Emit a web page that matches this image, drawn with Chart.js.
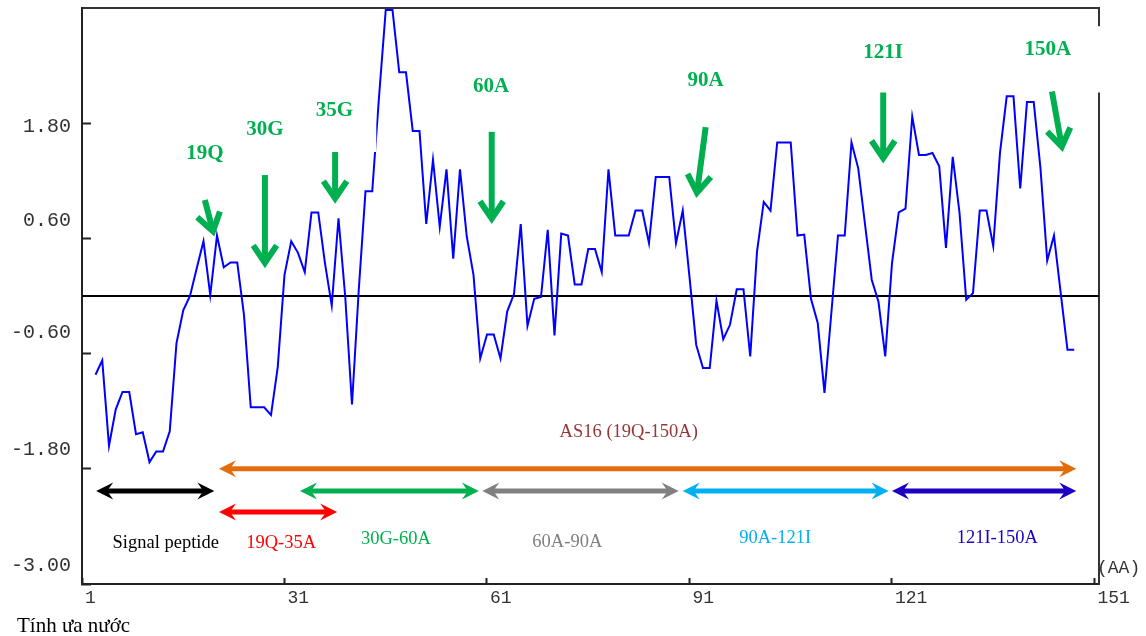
<!DOCTYPE html>
<html>
<head>
<meta charset="utf-8">
<script src="https://cdn.jsdelivr.net/npm/chart.js@4.4.0/dist/chart.umd.min.js"></script>
<style>
  html, body { margin: 0; padding: 0; background: #fff; }
</style>
</head>
<body>
<canvas id="hydroChart" width="1146" height="636"></canvas>
<script>
// residue (window centre) and hydropathy value
const residues = [3, 4, 5, 6, 7, 8, 9, 10, 11, 12, 13, 14, 15, 16, 17, 18, 19, 20, 21, 22,
  23, 24, 25, 26, 27, 28, 29, 30, 31, 32, 33, 34, 35, 36, 37, 38, 39, 40, 41, 42,
  43, 44, 45, 46, 47, 48, 49, 50, 51, 52, 53, 54, 55, 56, 57, 58, 59, 60, 61, 62,
  63, 64, 65, 66, 67, 68, 69, 70, 71, 72, 73, 74, 75, 76, 77, 78, 79, 80, 81, 82,
  83, 84, 85, 86, 87, 88, 89, 90, 91, 92, 93, 94, 95, 96, 97, 98, 99, 100, 101, 102,
  103, 104, 105, 106, 107, 108, 109, 110, 111, 112, 113, 114, 115, 116, 117, 118, 119, 120, 121, 122,
  123, 124, 125, 126, 127, 128, 129, 130, 131, 132, 133, 134, 135, 136, 137, 138, 139, 140, 141, 142,
  143, 144, 145, 146, 147, 148];

const hydropathy = [
  -0.82, -0.67, -1.56, -1.18, -1.00, -1.00, -1.44, -1.42, -1.73, -1.62,
  -1.62, -1.41, -0.49, -0.15, 0.00, 0.29, 0.57, 0.01, 0.63, 0.30,
  0.35, 0.35, -0.20, -1.16, -1.16, -1.16, -1.24, -0.74, 0.22, 0.57,
  0.45, 0.25, 0.87, 0.87, 0.34, -0.10, 0.81, -0.01, -1.13, 0.06,
  1.09, 1.09, 2.07, 2.98, 2.98, 2.33, 2.33, 1.72, 1.72, 0.75,
  1.42, 0.72, 1.32, 0.39, 1.32, 0.62, 0.22, -0.65, -0.40, -0.40,
  -0.65, -0.16, 0.02, 0.75, -0.31, -0.03, -0.01, 0.69, -0.41, 0.65,
  0.63, 0.12, 0.12, 0.49, 0.49, 0.25, 1.32, 0.63, 0.63, 0.63,
  0.89, 0.89, 0.55, 1.24, 1.24, 1.24, 0.55, 0.89, 0.20, -0.51,
  -0.75, -0.75, -0.05, -0.45, -0.30, 0.07, 0.07, -0.63, 0.46, 0.98,
  0.89, 1.60, 1.60, 1.60, 0.63, 0.64, -0.03, -0.28, -1.01, -0.19,
  0.63, 0.63, 1.60, 1.33, 0.75, 0.17, -0.06, -0.63, 0.34, 0.87,
  0.91, 1.87, 1.47, 1.47, 1.49, 1.35, 0.50, 1.45, 0.87, -0.04,
  0.03, 0.89, 0.89, 0.52, 1.49, 2.08, 2.08, 1.12, 2.02, 2.02,
  1.33, 0.37, 0.63, 0.03, -0.56, -0.56
];

const xTickValues = [1, 31, 61, 91, 121, 151];
const yTickValues = [-3, -1.8, -0.6, 0.6, 1.8];
const yTickLabels = ['-3.00', '-1.80', '-0.60', '0.60', '1.80'];

// cut sites marked with green arrows
const siteNames = ['19Q', '30G', '35G', '60A', '90A', '121I', '150A'];
const siteLabelX = [19.2, 28.1, 38.4, 61.6, 93.4, 119.7, 144.1];
const siteLabelY = [1.48, 1.73, 1.93, 2.18, 2.24, 2.54, 2.57];
const siteArrowFromX = [19.2, 28.1, 38.5, 61.7, 93.4, 119.7, 144.7];
const siteArrowFromY = [1.00, 1.26, 1.50, 1.71, 1.76, 2.12, 2.13];
const siteArrowToX = [20.6, 28.1, 38.5, 61.7, 92.0, 119.7, 146.3];
const siteArrowToY = [0.62, 0.29, 0.96, 0.75, 1.02, 1.38, 1.50];

// fragments shown as double arrows under the curve
const fragNames = ['AS16 (19Q-150A)', 'Signal peptide', '19Q-35A', '30G-60A', '60A-90A', '90A-121I', '121I-150A'];
const fragStart = [21.3, 3.1, 21.3, 33.3, 60.3, 90.0, 121.0];
const fragEnd = [148.3, 20.6, 38.8, 59.8, 89.4, 120.5, 148.3];

// ---- drawing style / placement of annotations ----
const fragStyle = {
  colors: ['#E46C0A', '#000000', '#FF0000', '#00B050', '#808080', '#00B0F0', '#1B00C2'],
  textColors: ['#953735', '#000000', '#FF0000', '#00B050', '#7F7F7F', '#00B0F0', '#1B00C2'],
  arrowY: [-1.80, -2.03, -2.25, -2.03, -2.03, -2.03, -2.03],
  textX: [82.0, 13.4, 30.5, 47.5, 72.9, 103.7, 136.6],
  textY: [-1.42, -2.57, -2.57, -2.53, -2.56, -2.52, -2.52]
};
// white boxes behind two of the site labels [x0, x1, yTop, yBottom]
const siteBoxes = { '35G': [34.0, 44.6, 2.20, 1.50], '150A': [138.8, 152.4, 2.81, 2.12] };
const yLabelShift = [-18, -19, -21, -18, 4];

const SERIF = "'Liberation Serif', 'Times New Roman', serif";
const MONO = "'Liberation Mono', 'DejaVu Sans Mono', monospace";

function greenArrow(ctx, x1, y1, x2, y2) {
  const ang = Math.atan2(y2 - y1, x2 - x1);
  const w = 6, head = 21, spread = Math.PI / 5.3;
  const back = (w / 2) / Math.sin(spread);
  const tx = x2 - back * Math.cos(ang), ty = y2 - back * Math.sin(ang);
  ctx.strokeStyle = '#00B050';
  ctx.lineWidth = w;
  ctx.lineCap = 'butt';
  ctx.beginPath();
  ctx.moveTo(x1, y1);
  ctx.lineTo(tx - 3 * Math.cos(ang), ty - 3 * Math.sin(ang));
  ctx.stroke();
  ctx.lineJoin = 'miter';
  ctx.miterLimit = 10;
  ctx.beginPath();
  ctx.moveTo(tx - head * Math.cos(ang - spread), ty - head * Math.sin(ang - spread));
  ctx.lineTo(tx, ty);
  ctx.lineTo(tx - head * Math.cos(ang + spread), ty - head * Math.sin(ang + spread));
  ctx.stroke();
}

function doubleArrow(ctx, xa, xb, yy, color) {
  const len = 17, half = 8.5, notch = 11;
  ctx.strokeStyle = color;
  ctx.fillStyle = color;
  ctx.lineWidth = 5;
  ctx.lineCap = 'butt';
  ctx.beginPath();
  ctx.moveTo(xa + 8, yy);
  ctx.lineTo(xb - 8, yy);
  ctx.stroke();
  [[xa, 1], [xb, -1]].forEach(([tip, dir]) => {
    ctx.beginPath();
    ctx.moveTo(tip, yy);
    ctx.lineTo(tip + dir * len, yy - half);
    ctx.lineTo(tip + dir * notch, yy);
    ctx.lineTo(tip + dir * len, yy + half);
    ctx.closePath();
    ctx.fill();
  });
}

const annotations = {
  id: 'annotations',
  afterDraw(chart) {
    const { ctx } = chart;
    const xs = chart.scales.x, ys = chart.scales.y;
    const px = v => xs.getPixelForValue(v);
    const py = v => ys.getPixelForValue(v);
    ctx.save();

    // y tick labels
    ctx.font = '20px ' + MONO;
    ctx.fillStyle = '#333';
    ctx.textAlign = 'right';
    ctx.textBaseline = 'middle';
    yTickValues.forEach((v, i) => ctx.fillText(yTickLabels[i], 71, py(v) + yLabelShift[i]));
    ctx.font = '18px ' + MONO;
    ctx.textAlign = 'left';
    ctx.fillText('(AA)', 1097, 568);

    ctx.font = '21px ' + SERIF;
    ctx.fillStyle = '#000';
    ctx.fillText('Tính ưa nước', 17, 626);

    // site labels + arrows
    siteNames.forEach((name, i) => {
      const box = siteBoxes[name];
      if (box) {
        ctx.fillStyle = '#fff';
        ctx.fillRect(px(box[0]), py(box[2]), px(box[1]) - px(box[0]), py(box[3]) - py(box[2]));
      }
      ctx.font = 'bold 21px ' + SERIF;
      ctx.fillStyle = '#00B050';
      ctx.textAlign = 'center';
      ctx.fillText(name, px(siteLabelX[i]), py(siteLabelY[i]));
      greenArrow(ctx, px(siteArrowFromX[i]), py(siteArrowFromY[i]), px(siteArrowToX[i]), py(siteArrowToY[i]));
    });

    // fragment arrows + names
    fragNames.forEach((name, i) => {
      doubleArrow(ctx, px(fragStart[i]), px(fragEnd[i]), py(fragStyle.arrowY[i]), fragStyle.colors[i]);
      ctx.font = '18.5px ' + SERIF;
      ctx.fillStyle = fragStyle.textColors[i];
      ctx.textAlign = 'center';
      ctx.fillText(name, px(fragStyle.textX[i]), py(fragStyle.textY[i]));
    });

    ctx.restore();
  }
};

const xMin = 1, xMax = 151.67;

new Chart(document.getElementById('hydroChart'), {
  type: 'line',
  data: {
    datasets: [{
      label: 'Hydropathy',
      data: residues.map((r, i) => ({ x: r, y: hydropathy[i] })),
      borderColor: '#0000FF',
      borderWidth: 2,
      pointRadius: 0,
      tension: 0
    }, {
      label: 'zero',
      data: [{ x: xMin, y: 0 }, { x: xMax, y: 0 }],
      borderColor: '#000',
      borderWidth: 2,
      pointRadius: 0
    }]
  },
  options: {
    responsive: false,
    devicePixelRatio: 1,
    animation: false,
    layout: { padding: { top: 8, right: 47, left: 0, bottom: 0 } },
    plugins: { legend: { display: false }, tooltip: { enabled: false } },
    scales: {
      x: {
        type: 'linear',
        min: xMin,
        max: xMax,
        afterBuildTicks: s => { s.ticks = xTickValues.map(v => ({ value: v })); },
        afterFit: s => { s.height = 52; },
        ticks: {
          autoSkip: false, maxRotation: 0, align: 'start', labelOffset: 3, padding: 9,
          color: '#333', font: { family: MONO, size: 18 }
        },
        grid: { drawOnChartArea: false, tickLength: -6, tickWidth: 2, tickColor: '#222' },
        border: { color: '#222', width: 2 }
      },
      xTop: {
        type: 'linear', position: 'top', min: xMin, max: xMax,
        afterFit: s => { s.height = 0; },
        ticks: { display: false },
        grid: { display: false },
        border: { color: '#333', width: 2 }
      },
      y: {
        min: -3,
        max: 3,
        afterBuildTicks: s => { s.ticks = yTickValues.map(v => ({ value: v })); },
        afterFit: s => { s.width = 82; },
        ticks: { display: false },
        grid: { drawOnChartArea: false, tickLength: -9, tickWidth: 2, tickColor: '#222' },
        border: { color: '#222', width: 2 }
      },
      yRight: {
        position: 'right', min: -3, max: 3,
        afterFit: s => { s.width = 0; },
        ticks: { display: false },
        grid: { display: false },
        border: { color: '#333', width: 2 }
      }
    }
  },
  plugins: [annotations]
});
</script>
</body>
</html>
